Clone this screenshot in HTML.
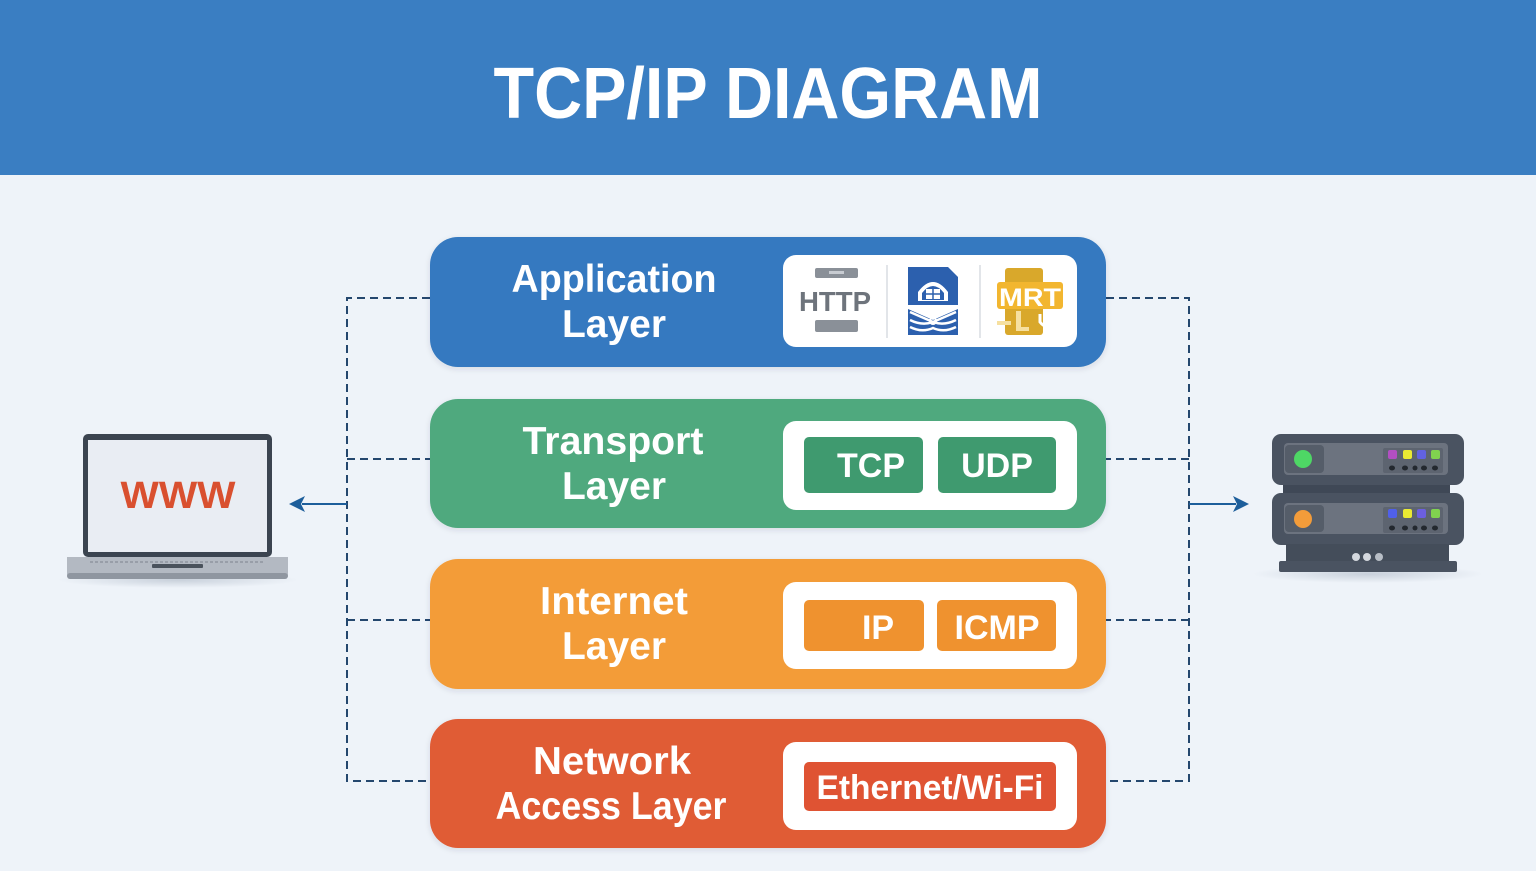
<!DOCTYPE html>
<html><head><meta charset="utf-8"><style>
html,body{margin:0;padding:0;background:#eef3f9;}
svg{display:block;}
text{font-family:"Liberation Sans",Arial,sans-serif;}
</style></head><body>
<svg width="1536" height="871" viewBox="0 0 1536 871" xmlns="http://www.w3.org/2000/svg">
<defs>
<filter id="sh" x="-10%" y="-10%" width="120%" height="130%"><feDropShadow dx="0" dy="2" stdDeviation="3" flood-color="#2a3a50" flood-opacity="0.12"/></filter>
<radialGradient id="gs" cx="0.5" cy="0.5" r="0.5"><stop offset="0" stop-color="#9aa6b6" stop-opacity="0.45"/><stop offset="1" stop-color="#9aa6b6" stop-opacity="0"/></radialGradient>
</defs>
<rect x="0" y="0" width="1536" height="871" fill="#eef3f9"/>
<!-- header -->
<rect x="0" y="0" width="1536" height="175" fill="#3a7ec2"/>
<text x="768" y="118" text-anchor="middle" font-size="72" font-weight="700" fill="#ffffff" textLength="549" lengthAdjust="spacingAndGlyphs">TCP/IP DIAGRAM</text>

<!-- dashed connectors -->
<g stroke="#24476e" stroke-width="2" fill="none" stroke-dasharray="8,5">
<path d="M430 298 H347 V781 H430"/>
<path d="M347 459 H430"/>
<path d="M347 620 H430"/>
<path d="M1106 298 H1189 V781 H1106"/>
<path d="M1189 459 H1106"/>
<path d="M1189 620 H1106"/>
</g>
<!-- arrows -->
<g stroke="#1d5e9b" stroke-width="2" fill="#1d5e9b">
<line x1="347" y1="504" x2="302" y2="504"/>
<path d="M289 504 L305 496 L301 504 L305 512 Z" stroke="none"/>
<line x1="1189" y1="504" x2="1236" y2="504"/>
<path d="M1249 504 L1233 496 L1237 504 L1233 512 Z" stroke="none"/>
</g>

<!-- layer boxes -->
<rect x="430" y="237" width="676" height="130" rx="28" fill="#3479c0" filter="url(#sh)"/>
<rect x="430" y="399" width="676" height="129" rx="28" fill="#4fa97e" filter="url(#sh)"/>
<rect x="430" y="559" width="676" height="130" rx="28" fill="#f39c39" filter="url(#sh)"/>
<rect x="430" y="719" width="676" height="129" rx="28" fill="#e05b35" filter="url(#sh)"/>

<g font-size="39" font-weight="700" fill="#ffffff" text-anchor="middle">
<text x="614" y="292" textLength="205" lengthAdjust="spacingAndGlyphs">Application</text>
<text x="614" y="337">Layer</text>
<text x="613" y="454" textLength="181" lengthAdjust="spacingAndGlyphs">Transport</text>
<text x="614" y="499">Layer</text>
<text x="614" y="614" textLength="148" lengthAdjust="spacingAndGlyphs">Internet</text>
<text x="614" y="659">Layer</text>
<text x="612" y="774" textLength="158" lengthAdjust="spacingAndGlyphs">Network</text>
<text x="611" y="819" textLength="231" lengthAdjust="spacingAndGlyphs">Access Layer</text>
</g>

<!-- white panels -->
<rect x="783" y="255" width="294" height="92" rx="13" fill="#ffffff"/>
<rect x="783" y="421" width="294" height="89" rx="13" fill="#ffffff"/>
<rect x="783" y="582" width="294" height="87" rx="13" fill="#ffffff"/>
<rect x="783" y="742" width="294" height="88" rx="13" fill="#ffffff"/>

<!-- transport chips -->
<rect x="804" y="437" width="119" height="56" rx="5" fill="#3f9a6f"/>
<rect x="938" y="437" width="118" height="56" rx="5" fill="#3f9a6f"/>
<g font-size="34" font-weight="700" fill="#ffffff" text-anchor="middle">
<text x="871" y="477">TCP</text>
<text x="997" y="477">UDP</text>
</g>
<!-- internet chips -->
<rect x="804" y="600" width="120" height="51" rx="5" fill="#ef922f"/>
<rect x="937" y="600" width="119" height="51" rx="5" fill="#ef922f"/>
<g font-size="34" font-weight="700" fill="#ffffff" text-anchor="middle">
<text x="878" y="639">IP</text>
<text x="997" y="639">ICMP</text>
</g>
<!-- network chip -->
<rect x="804" y="762" width="252" height="49" rx="5" fill="#df5333"/>
<text x="930" y="799" font-size="34" font-weight="700" fill="#ffffff" text-anchor="middle" textLength="227" lengthAdjust="spacingAndGlyphs">Ethernet/Wi-Fi</text>

<!-- application icons -->
<rect x="815" y="268" width="43" height="10" rx="2" fill="#8a9098"/>
<rect x="829" y="271" width="15" height="3" fill="#c8ccd2"/>
<text x="835" y="311" font-size="28" font-weight="700" fill="#6e747c" text-anchor="middle" textLength="72" lengthAdjust="spacingAndGlyphs">HTTP</text>
<rect x="815" y="320" width="43" height="12" rx="2" fill="#8a9098"/>
<line x1="887" y1="265" x2="887" y2="338" stroke="#e2e5e9" stroke-width="2"/>
<!-- blue doc icon -->
<path d="M908 267 H948 L958 277 V335 H908 Z" fill="#2c60ae"/>
<path d="M918 301 V292 Q933 272 948 292 V301 Z" fill="#ffffff"/>
<path d="M922 300 V293 Q933 279 944 293 V300 Z" fill="#2c60ae"/>
<rect x="926" y="289" width="14" height="10" fill="#ffffff"/>
<line x1="933" y1="289" x2="933" y2="299" stroke="#2c60ae" stroke-width="1.5"/>
<line x1="926" y1="294" x2="940" y2="294" stroke="#2c60ae" stroke-width="1.5"/>
<path d="M908 305 H958 V309 L933 320 L908 309 Z" fill="#ffffff"/>
<path d="M910 312 L933 322 L956 312 M910 320 Q922 326 933 322 Q944 326 956 320 M910 327 Q922 333 933 328 Q944 333 956 327" stroke="#ffffff" stroke-width="2.5" fill="none"/>
<circle cx="933" cy="321" r="3" fill="none" stroke="#ffffff" stroke-width="2"/>
<line x1="980" y1="265" x2="980" y2="338" stroke="#e2e5e9" stroke-width="2"/>
<!-- yellow icon -->
<rect x="1005" y="268" width="38" height="67" rx="3" fill="#d9a82b"/>
<rect x="997" y="282" width="66" height="27" rx="3" fill="#f2b630"/>
<text x="1030" y="306" font-size="25" font-weight="700" fill="#ffffff" text-anchor="middle" textLength="62" lengthAdjust="spacingAndGlyphs">MRT</text>
<rect x="997" y="321" width="14" height="4" fill="#f6e0a0"/>
<rect x="1016" y="311" width="5" height="20" fill="#f6e0a0"/>
<rect x="1016" y="327" width="13" height="4" fill="#f6e0a0"/>
<path d="M1040 314 V322 Q1047 331 1054 322 V314" stroke="#ffffff" stroke-width="3" fill="none"/>

<!-- laptop -->
<ellipse cx="178" cy="580" rx="120" ry="8" fill="url(#gs)"/>
<rect x="83" y="434" width="189" height="123" rx="5" fill="#3b4450"/>
<rect x="88" y="440" width="179" height="112" fill="#e9edf3"/>
<text x="178" y="508" font-size="38" font-weight="700" fill="#d9502f" text-anchor="middle" textLength="115" lengthAdjust="spacingAndGlyphs">WWW</text>
<path d="M67 557 H288 V574 Q288 579 283 579 H72 Q67 579 67 574 Z" fill="#b3b9c2"/>
<rect x="67" y="573" width="221" height="6" rx="3" fill="#8f96a0"/>
<line x1="90" y1="562" x2="265" y2="562" stroke="#8f96a0" stroke-width="1.5" stroke-dasharray="3,2"/>
<rect x="152" y="564" width="51" height="4" rx="1" fill="#4a525c"/>

<!-- server -->
<ellipse cx="1368" cy="574" rx="115" ry="9" fill="url(#gs)"/>
<rect x="1283" y="484" width="167" height="12" fill="#3f4856"/>
<rect x="1272" y="434" width="192" height="51" rx="9" fill="#4a5361"/>
<rect x="1284" y="443" width="164" height="32" rx="4" fill="#6c737f"/>
<rect x="1285" y="445" width="39" height="28" rx="4" fill="#555d69"/>
<circle cx="1303" cy="459" r="9" fill="#4ed765"/>
<rect x="1383" y="448" width="60" height="25" rx="2" fill="#5d6470"/>
<rect x="1388" y="450" width="9" height="9" rx="2" fill="#b24fc2"/>
<rect x="1403" y="450" width="9" height="9" rx="2" fill="#eaea33"/>
<rect x="1417" y="450" width="9" height="9" rx="2" fill="#6262e2"/>
<rect x="1431" y="450" width="9" height="9" rx="2" fill="#80d24f"/>
<g fill="#23282f"><ellipse cx="1392" cy="468" rx="3" ry="2.5"/><ellipse cx="1405" cy="468" rx="3" ry="2.5"/><ellipse cx="1415" cy="468" rx="2.5" ry="2.5"/><ellipse cx="1424" cy="468" rx="3" ry="2.5"/><ellipse cx="1435" cy="468" rx="3" ry="2.5"/></g>
<rect x="1272" y="493" width="192" height="52" rx="9" fill="#4a5361"/>
<rect x="1284" y="503" width="164" height="31" rx="4" fill="#6c737f"/>
<rect x="1285" y="505" width="39" height="27" rx="4" fill="#555d69"/>
<circle cx="1303" cy="519" r="9" fill="#f39c3a"/>
<rect x="1383" y="507" width="60" height="26" rx="2" fill="#5d6470"/>
<rect x="1388" y="509" width="9" height="9" rx="2" fill="#5060ea"/>
<rect x="1403" y="509" width="9" height="9" rx="2" fill="#eaea33"/>
<rect x="1417" y="509" width="9" height="9" rx="2" fill="#6c5fe0"/>
<rect x="1431" y="509" width="9" height="9" rx="2" fill="#80d24f"/>
<g fill="#23282f"><ellipse cx="1392" cy="528" rx="3" ry="2.5"/><ellipse cx="1405" cy="528" rx="3" ry="2.5"/><ellipse cx="1415" cy="528" rx="2.5" ry="2.5"/><ellipse cx="1424" cy="528" rx="3" ry="2.5"/><ellipse cx="1435" cy="528" rx="3" ry="2.5"/></g>
<rect x="1286" y="544" width="163" height="18" fill="#444d5a"/>
<circle cx="1356" cy="557" r="4" fill="#d4d8de"/>
<circle cx="1367" cy="557" r="4" fill="#d4d8de"/>
<circle cx="1379" cy="557" r="4" fill="#b8bec6"/>
<rect x="1279" y="561" width="178" height="11" rx="2" fill="#4a5361"/>
</svg>
</body></html>
